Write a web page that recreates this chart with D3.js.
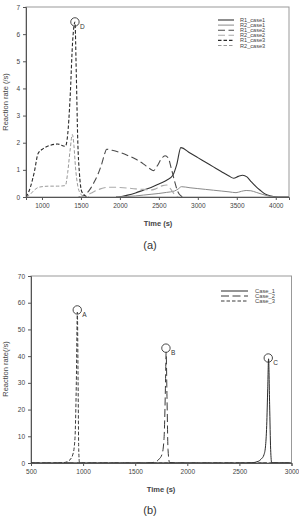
<!DOCTYPE html>
<html><head><meta charset="utf-8">
<script src="https://cdn.jsdelivr.net/npm/d3@7"></script>
<style>body{margin:0;background:#fff}svg{display:block;font-family:"Liberation Sans",Arial,sans-serif}</style>
</head><body>
<svg id="c" width="299" height="519"></svg>
<script>
// ---------- Chart (a) data ----------
const aXTicks = [1000, 1500, 2000, 2500, 3000, 3500, 4000];
const aYTicks = [0, 1, 2, 3, 4, 5, 6, 7];
const aNames = ["R1_case1", "R2_case1", "R1_case2", "R2_case2", "R1_case3", "R2_case3"];

const r1c1T = [1950, 2000, 2100, 2200, 2300, 2400, 2500, 2600, 2680, 2730, 2782, 2900, 3000, 3100, 3200, 3300, 3400, 3460, 3520, 3575, 3630, 3680, 3740, 3800, 3870, 3940, 4000, 4060, 4170];
const r1c1V = [0, 0.01, 0.07, 0.15, 0.25, 0.35, 0.48, 0.62, 0.8, 1.2, 1.82, 1.62, 1.45, 1.28, 1.11, 0.94, 0.77, 0.69, 0.76, 0.8, 0.74, 0.58, 0.4, 0.25, 0.1, 0.04, 0.01, 0, 0];

const r2c1T = [1950, 2100, 2200, 2300, 2400, 2500, 2600, 2700, 2750, 2790, 2900, 3000, 3100, 3200, 3300, 3400, 3490, 3560, 3620, 3680, 3750, 3850, 3950, 4050, 4170];
const r2c1V = [0, 0.02, 0.04, 0.07, 0.1, 0.13, 0.17, 0.22, 0.3, 0.38, 0.34, 0.31, 0.28, 0.25, 0.22, 0.19, 0.16, 0.21, 0.24, 0.23, 0.17, 0.08, 0.01, 0, 0];

const r1c2T = [1470, 1520, 1570, 1620, 1670, 1720, 1770, 1800, 1830, 1900, 2000, 2100, 2200, 2300, 2380, 2430, 2480, 2530, 2580, 2620, 2660, 2700, 2740, 2780, 2820];
const r1c2V = [0, 0.03, 0.12, 0.3, 0.55, 0.85, 1.25, 1.55, 1.76, 1.72, 1.64, 1.53, 1.4, 1.22, 1.05, 0.97, 1.15, 1.4, 1.52, 1.44, 1.05, 0.6, 0.22, 0.05, 0];

const r2c2T = [1480, 1550, 1600, 1650, 1700, 1750, 1800, 1850, 1900, 2000, 2100, 2200, 2300, 2400, 2450, 2500, 2550, 2600, 2650, 2700, 2750];
const r2c2V = [0, 0.05, 0.1, 0.17, 0.24, 0.3, 0.34, 0.36, 0.36, 0.35, 0.33, 0.3, 0.28, 0.26, 0.29, 0.36, 0.42, 0.44, 0.3, 0.1, 0];

const r1c3T = [800, 850, 900, 950, 1000, 1100, 1200, 1300, 1330, 1360, 1395, 1423, 1440, 1460, 1480, 1510, 1550, 1600];
const r1c3V = [0, 0.35, 0.9, 1.6, 1.75, 1.9, 1.95, 1.87, 2.3, 3.6, 5.8, 6.45, 4.6, 2.0, 0.9, 0.2, 0.05, 0];

const r2c3T = [800, 850, 900, 950, 1000, 1100, 1200, 1300, 1330, 1360, 1390, 1410, 1430, 1460, 1500, 1550];
const r2c3V = [0, 0.1, 0.25, 0.35, 0.38, 0.4, 0.4, 0.42, 0.9, 1.7, 2.3, 1.9, 1.1, 0.4, 0.1, 0];

const aPeak = {label: "D", t: 1423, v: 6.45};

// ---------- Chart (b) data ----------
const bXTicks = [500, 1000, 1500, 2000, 2500, 3000];
const bYTicks = [0, 10, 20, 30, 40, 50, 60, 70];
const bNames = ["Case_1", "Case_2", "Case_3"];

const c1T = [500, 2500, 2620, 2680, 2710, 2735, 2750, 2762, 2772, 2780, 2790, 2800, 2810, 3000];
const c1V = [0, 0, 0.1, 0.6, 1.5, 3, 6, 14, 28, 39, 22, 5, 0.1, 0];
const c2T = [500, 1500, 1650, 1700, 1730, 1755, 1770, 1780, 1790, 1797, 1805, 1815, 1830, 2000, 3000];
const c2V = [0, 0, 0.1, 0.5, 1.5, 3, 6, 12, 28, 41.5, 25, 5, 0.2, 0, 0];
const c3T = [500, 700, 800, 850, 880, 900, 915, 925, 935, 945, 952, 958, 965, 1000, 3000];
const c3V = [0, 0, 0.1, 0.5, 1.5, 3, 6, 12, 30, 56.5, 30, 5, 0.3, 0, 0];

const bPeaks = [{label: "A", t: 944, v: 57.3}, {label: "B", t: 1795, v: 43}, {label: "C", t: 2777, v: 39.3}];

// ---------- styles ----------
const aStyles = [
  {c: "#333", d: null, w: 1.1},
  {c: "#8a8a8a", d: null, w: 1},
  {c: "#4a4a4a", d: "7,3.5", w: 1.1},
  {c: "#aaa", d: "7,3.5", w: 1.1},
  {c: "#2a2a2a", d: "3.5,2", w: 1.1},
  {c: "#999", d: "3.5,2", w: 1},
];
const bStyles = [
  {c: "#2a2a2a", d: null, w: 1},
  {c: "#3a3a3a", d: "8,3.5", w: 1},
  {c: "#3a3a3a", d: "3.5,2", w: 1},
];

const svg = d3.select("#c");
const mk = (T, V) => T.map((t, i) => ({t, v: V[i]}));

function panel(o) {
  const g = svg.append("g");
  const x = d3.scaleLinear().domain(o.xDom).range([o.l, o.r]);
  const y = d3.scaleLinear().domain(o.yDom).range([o.b, o.t]);
  g.append("rect").attr("x", o.l).attr("y", o.t).attr("width", o.r - o.l).attr("height", o.b - o.t)
    .attr("fill", "none").attr("stroke", "#999").attr("stroke-width", 1);
  const ax = g.append("g").attr("transform", `translate(0,${o.b})`)
    .call(d3.axisBottom(x).tickValues(o.xTicks).tickSize(3).tickPadding(3).tickFormat(d3.format("d")));
  const ay = g.append("g").attr("transform", `translate(${o.l},0)`)
    .call(d3.axisLeft(y).tickValues(o.yTicks).tickSize(3).tickPadding(3).tickFormat(d3.format("d")));
  [ax, ay].forEach(a => {
    a.select(".domain").attr("stroke", "#555");
    a.selectAll(".tick line").attr("stroke", "#555");
    a.selectAll("text").attr("font-size", 6.5).attr("fill", "#444").attr("font-family", "Liberation Sans, Arial, sans-serif");
  });
  const line = d3.line().x(d => x(d.t)).y(d => y(d.v)).curve(d3.curveMonotoneX);
  const clipId = "clip" + o.id;
  svg.append("clipPath").attr("id", clipId).append("rect")
    .attr("x", o.l).attr("y", o.t - 2).attr("width", o.r - o.l).attr("height", o.b - o.t + 2);
  const lg = g.append("g").attr("clip-path", `url(#${clipId})`);
  o.series.forEach((s, i) => {
    lg.append("path").datum(s).attr("d", line).attr("fill", "none")
      .attr("stroke", o.styles[i].c).attr("stroke-width", o.styles[i].w)
      .attr("stroke-dasharray", o.styles[i].d);
  });
  o.peaks.forEach(p => {
    g.append("circle").attr("cx", x(p.t)).attr("cy", y(p.v)).attr("r", 4.2)
      .attr("fill", "none").attr("stroke", "#333").attr("stroke-width", 0.9);
    g.append("text").attr("x", x(p.t) + 5).attr("y", y(p.v) + 7).text(p.label)
      .attr("font-size", 6.5).attr("fill", "#333");
  });
  o.names.forEach((n, i) => {
    const yy = o.legY + i * o.legDy;
    g.append("line").attr("x1", o.legX1).attr("x2", o.legX2).attr("y1", yy).attr("y2", yy)
      .attr("stroke", o.styles[i].c).attr("stroke-width", o.styles[i].w)
      .attr("stroke-dasharray", o.styles[i].d);
    g.append("text").attr("x", o.legTx).attr("y", yy + 2).text(n)
      .attr("font-size", o.legFs).attr("fill", "#444");
  });
  g.append("text").attr("x", o.xtX).attr("y", o.xtY).attr("text-anchor", "middle")
    .attr("font-size", 7.5).attr("font-weight", "bold").attr("fill", "#444").text("Time (s)");
  g.append("text").attr("transform", `translate(${o.ytX},${o.ytY}) rotate(-90)`).attr("text-anchor", "middle")
    .attr("font-size", 7.5).attr("fill", "#444").text(o.yTitle);
  g.append("text").attr("x", 150).attr("y", o.capY).attr("text-anchor", "middle")
    .attr("font-size", 11).attr("fill", "#333").text(o.cap);
}

panel({
  id: "a", l: 26, r: 289, t: 7, b: 197, xDom: [795, 4170], yDom: [0, 7],
  xTicks: aXTicks, yTicks: aYTicks,
  series: [mk(r1c1T, r1c1V), mk(r2c1T, r2c1V), mk(r1c2T, r1c2V), mk(r2c2T, r2c2V), mk(r1c3T, r1c3V), mk(r2c3T, r2c3V)],
  styles: aStyles, names: aNames, peaks: [aPeak],
  legX1: 218, legX2: 234, legTx: 240, legY: 20, legDy: 5.1, legFs: 5.6,
  xtX: 158, xtY: 226, ytX: 8, ytY: 102, yTitle: "Reaction rate (/s)", cap: "(a)", capY: 249
});

panel({
  id: "b", l: 31, r: 291.5, t: 276, b: 463, xDom: [500, 3000], yDom: [0, 70],
  xTicks: bXTicks, yTicks: bYTicks,
  series: [mk(c1T, c1V), mk(c2T, c2V), mk(c3T, c3V)],
  styles: bStyles, names: bNames, peaks: bPeaks,
  legX1: 221, legX2: 248, legTx: 255, legY: 291, legDy: 5, legFs: 5.8,
  xtX: 161, xtY: 492, ytX: 8, ytY: 369, yTitle: "Reaction rate(/s)", cap: "(b)", capY: 514
});
</script>
</body></html>
